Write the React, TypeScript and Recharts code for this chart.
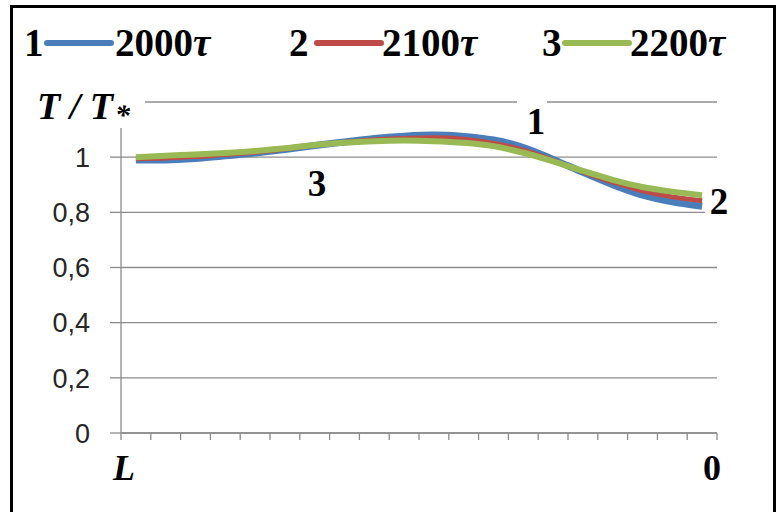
import React from 'react';
import { LineChart, Line, XAxis, YAxis, CartesianGrid, Legend } from 'recharts';

// category centres along the L → 0 axis (20 categories between 21 tick marks)
const positions = [0.5, 1.5, 2.5, 3.5, 4.5, 5.5, 6.5, 7.5, 8.5, 9.5, 10.5, 11.5, 12.5, 13.5, 14.5, 15.5, 16.5, 17.5, 18.5, 19.5];

// series 1: 2000τ
const series1 = [0.99, 0.99, 0.995, 1.005, 1.015, 1.028, 1.042, 1.055, 1.068, 1.076, 1.08, 1.075, 1.062, 1.035, 0.992, 0.945, 0.9, 0.862, 0.838, 0.822];
// series 2: 2100τ
const series2 = [0.995, 0.997, 1.002, 1.01, 1.018, 1.03, 1.043, 1.054, 1.063, 1.068, 1.07, 1.065, 1.05, 1.025, 0.988, 0.947, 0.91, 0.878, 0.856, 0.842];
// series 3: 2200τ
const series3 = [1.0, 1.005, 1.01, 1.015, 1.022, 1.032, 1.044, 1.052, 1.058, 1.06, 1.058, 1.052, 1.04, 1.016, 0.985, 0.95, 0.918, 0.892, 0.875, 0.862];

const seriesKeys = ['s1', 's2', 's3'];
const seriesNames = ['2000τ', '2100τ', '2200τ'];
const seriesNumbers = ['1', '2', '3'];
const seriesColors = ['#4A7EBB', '#BE4B48', '#98B954'];
const seriesWidths = [7, 5, 6];

const yTicks = [0, 0.2, 0.4, 0.6, 0.8, 1, 1.2];
const yTickLabels = ['0', '0,2', '0,4', '0,6', '0,8', '1', ''];
const xTicks = [0, 1, 2, 3, 4, 5, 6, 7, 8, 9, 10, 11, 12, 13, 14, 15, 16, 17, 18, 19, 20];
const xEndLabels = ['L', '0'];

const data = positions.map((x, i) => ({ x, s1: series1[i], s2: series2[i], s3: series3[i] }));

const W = 777;
const H = 512;
const LEGEND_H = 70;
const GRID = '#8c8c8c';
const SERIF = '"Liberation Serif", "Times New Roman", serif';
const SANS = '"Liberation Sans", Arial, sans-serif';

const YTick = (props: any) => {
  const { x, y, payload } = props;
  const idx = yTicks.indexOf(payload.value);
  const label = idx >= 0 ? yTickLabels[idx] : '';
  if (!label) return <g />;
  return (
    <text x={x} y={y} dy="0.36em" textAnchor="end" fontFamily={SANS} fontSize={27} fill="#262626">
      {label}
    </text>
  );
};

const EmptyTick = () => <g />;

const legendNumX = [24, 289, 542];
const legendLineX = [47, 317, 565];
const legendNameX = [115, 382, 630];

const LegendContent = (props: any) => {
  const payload = props.payload || [];
  return (
    <svg width={W} height={LEGEND_H} style={{ display: 'block' }}>
      {payload.map((p: any, i: number) => (
        <g key={i}>
          <text x={legendNumX[i]} y={56} fontFamily={SERIF} fontWeight="bold" fontSize={39} fill="#000">
            {seriesNumbers[i]}
          </text>
          <line x1={legendLineX[i]} x2={legendLineX[i] + 64} y1={43} y2={43} stroke={p.color} strokeWidth={6} strokeLinecap="round" />
          <text x={legendNameX[i]} y={56} fontFamily={SERIF} fontWeight="bold" fontSize={39} fill="#000">
            {String(p.value).replace('τ', '')}
            <tspan fontStyle="italic">τ</tspan>
          </text>
        </g>
      ))}
    </svg>
  );
};

export default function App() {
  return (
    <div style={{ position: 'absolute', left: 0, top: 0, width: W, height: H, background: '#fff', overflow: 'hidden' }}>
      <LineChart
        width={W}
        height={H}
        data={data}
        margin={{ top: 102 - LEGEND_H, right: 60, bottom: 49, left: 11 }}
        style={{ position: 'absolute', left: 0, top: 0 }}
      >
        <CartesianGrid vertical={false} stroke={GRID} strokeWidth={1.3} />
        <XAxis
          dataKey="x"
          type="number"
          domain={[0, 20]}
          ticks={xTicks}
          interval={0}
          height={30}
          tick={<EmptyTick />}
          tickSize={7}
          axisLine={{ stroke: GRID, strokeWidth: 1.3 }}
          tickLine={{ stroke: GRID, strokeWidth: 1.3 }}
          allowDataOverflow
        />
        <YAxis
          type="number"
          domain={[0, 1.2]}
          ticks={yTicks}
          interval={0}
          width={110}
          tickSize={11}
          tickMargin={20}
          tick={<YTick />}
          axisLine={{ stroke: GRID, strokeWidth: 1.3 }}
          tickLine={{ stroke: GRID, strokeWidth: 1.3 }}
          allowDataOverflow
        />
        <Legend
          verticalAlign="top"
          align="left"
          height={LEGEND_H}
          content={<LegendContent />}
          wrapperStyle={{ position: 'absolute', left: 0, top: 0, width: W, height: LEGEND_H }}
        />
        {seriesKeys.map((k, i) => (
          <Line
            key={k}
            dataKey={k}
            name={seriesNames[i]}
            type="monotone"
            stroke={seriesColors[i]}
            strokeWidth={seriesWidths[i]}
            dot={false}
            activeDot={false}
            isAnimationActive={false}
          />
        ))}
      </LineChart>

      <svg width={W} height={H} style={{ position: 'absolute', left: 0, top: 0, pointerEvents: 'none' }}>
        {/* axis title */}
        <rect x={33} y={84} width={112} height={44} fill="#fff" />
        <text x={37} y={119} fontFamily={SERIF} fontWeight="bold" fontStyle="italic" fontSize={38} fill="#000">
          T / T
          <tspan fontSize={30} dx={2} dy={6}>*</tspan>
        </text>
        {/* curve labels */}
        <rect x={300} y={158} width={33} height={42} fill="#fff" />
        <text x={317} y={196} textAnchor="middle" fontFamily={SERIF} fontWeight="bold" fontSize={37} fill="#000">3</text>
        <rect x={517} y={96} width={30} height={40} fill="#fff" />
        <text x={536} y={134} textAnchor="middle" fontFamily={SERIF} fontWeight="bold" fontSize={37} fill="#000">1</text>
        <rect x={705} y={185} width={30} height={32} fill="#fff" />
        <text x={719} y={214} textAnchor="middle" fontFamily={SERIF} fontWeight="bold" fontSize={37} fill="#000">2</text>
        {/* axis end labels */}
        <text x={124} y={480} textAnchor="middle" fontFamily={SERIF} fontWeight="bold" fontStyle="italic" fontSize={36} fill="#000">{xEndLabels[0]}</text>
        <text x={712} y={480} textAnchor="middle" fontFamily={SERIF} fontWeight="bold" fontSize={36} fill="#000">{xEndLabels[1]}</text>
      </svg>

      <div
        style={{
          position: 'absolute',
          left: 10,
          top: 5,
          width: 766,
          height: 530,
          border: '3px solid #000',
          boxSizing: 'border-box',
          pointerEvents: 'none',
        }}
      />
    </div>
  );
}
